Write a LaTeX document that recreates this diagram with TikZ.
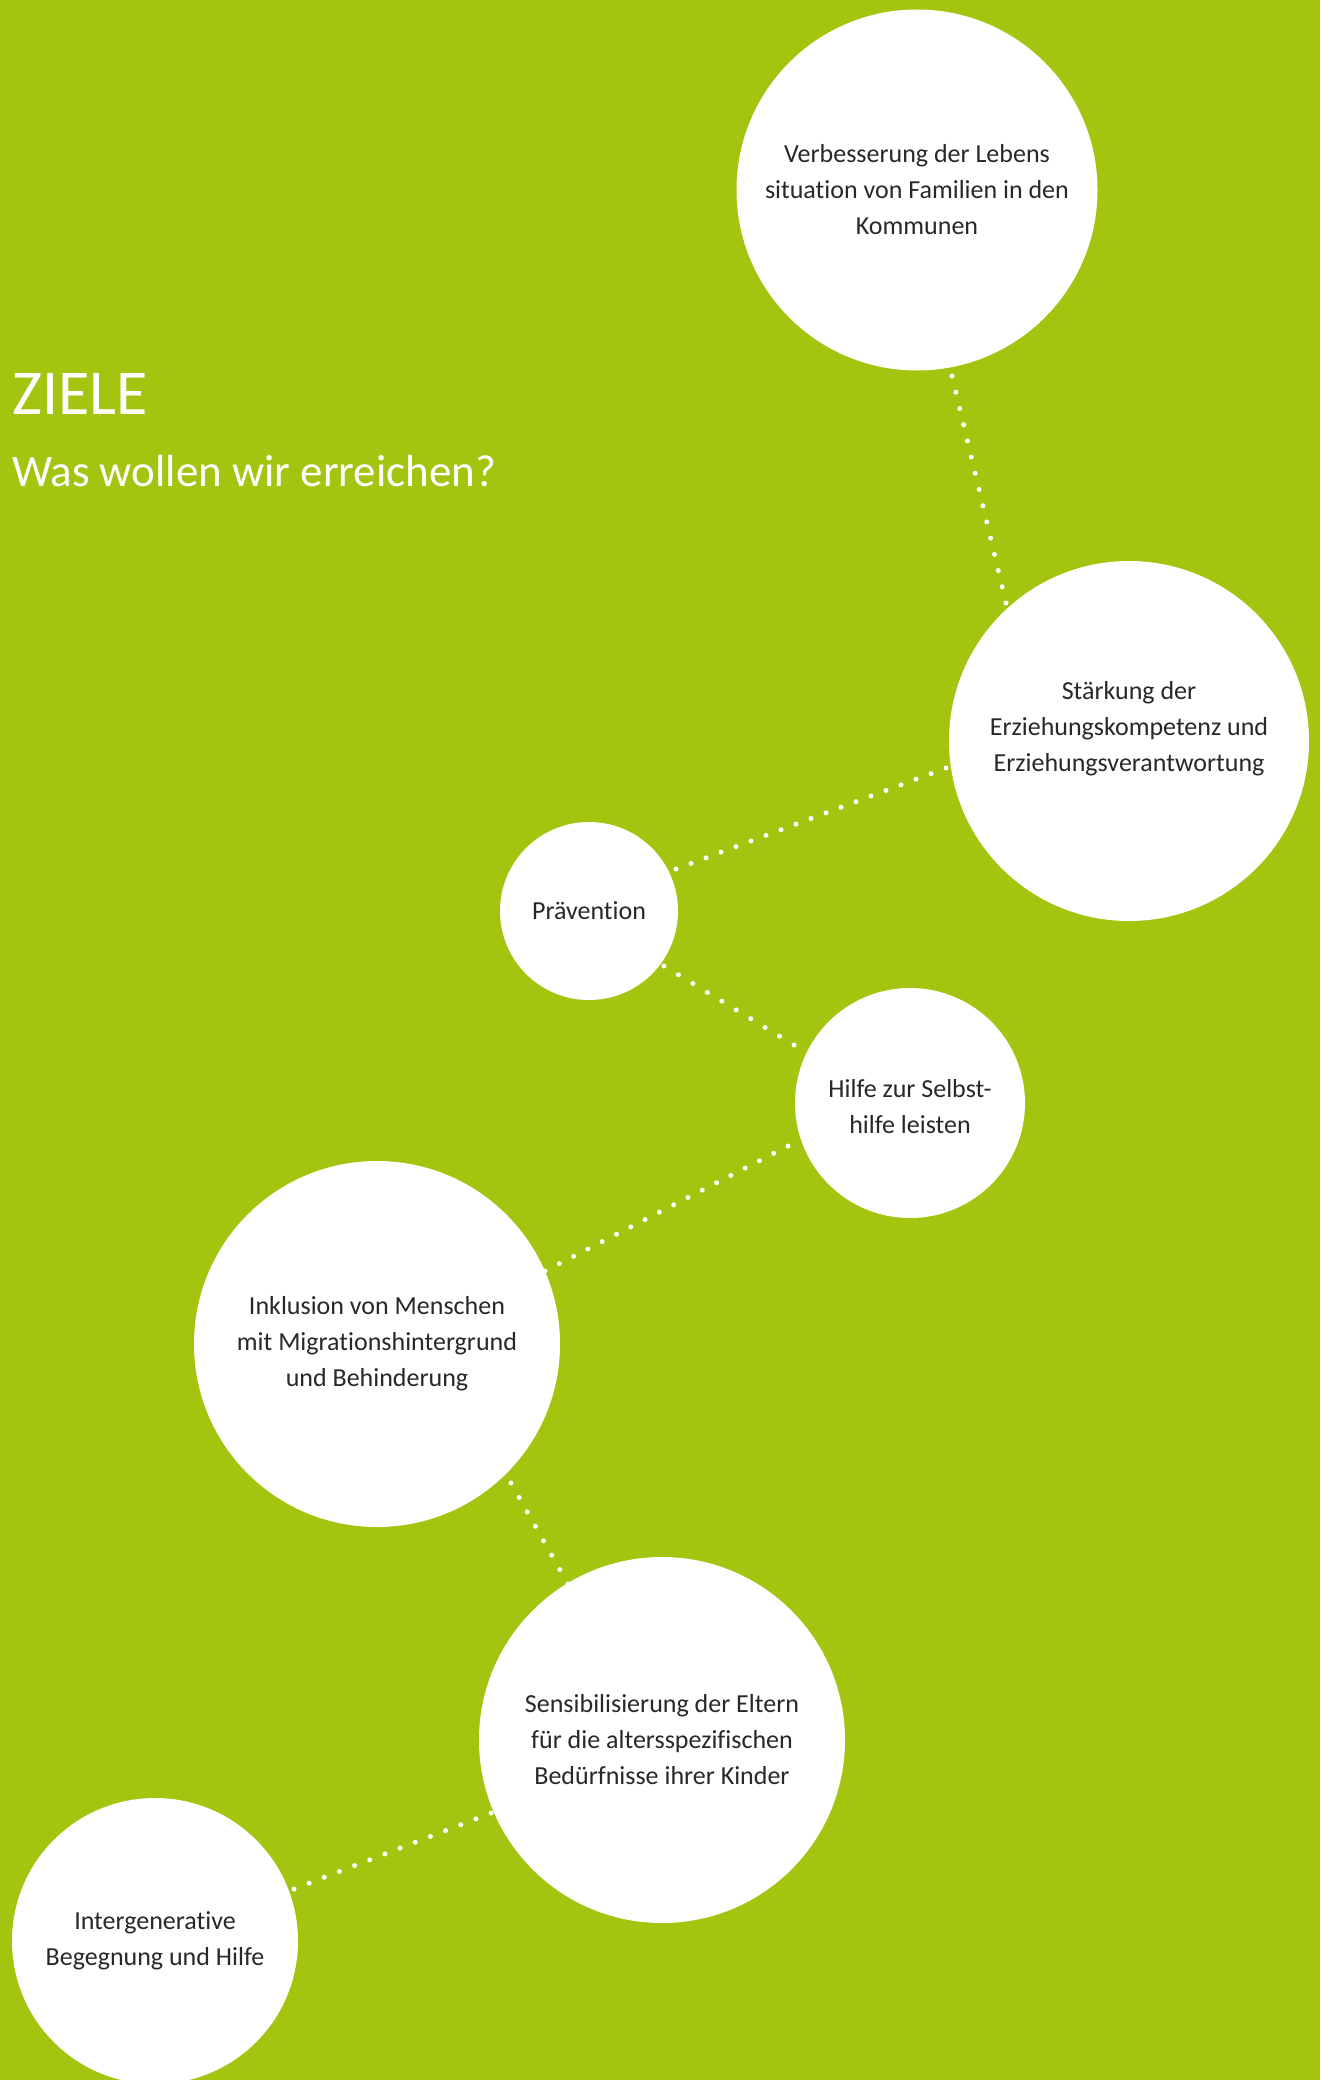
\documentclass[tikz,border=0pt]{standalone}
\usepackage{fontspec}
\setmainfont{Carlito}[Ligatures={NoCommon}]
\usetikzlibrary{calc}
\definecolor{bg}{RGB}{164,197,16}
\definecolor{txt}{RGB}{40,40,40}
\begin{document}
\begin{tikzpicture}[x=1pt,y=-1pt,
  goal/.style={circle, fill=white, draw=none, inner sep=0pt, minimum size=#1,
    text=txt, align=center, font=\fontsize{26}{36}\selectfont},
  goaltext/.style={inner sep=0pt, text=txt, align=center, font=\fontsize{26}{36}\selectfont},
  dotfill/.style={fill=white},
  titletext/.style={anchor=base west, text=white, inner sep=0pt}]
\useasboundingbox (0,0) rectangle (1320,2080);
\fill[bg] (0,0) rectangle (1320,2080);

\node[titletext, font=\fontsize{64}{64}\selectfont] (title) at (12,414) {ZIELE};
\node[titletext, font=\fontsize{45}{45}\selectfont] (sub) at (12,486) {Was wollen wir erreichen?};

\node[goal=361pt] (c1) at (917,190) {Verbesserung der Lebens\\situation von Familien in den\\Kommunen};
\node[goal=360pt] (c2) at (1129,741) {};
\node[goaltext] (t2) at ($(c2.center)+(0,-12)$) {Stärkung der\\Erziehungskompetenz und\\Erziehungsverantwortung};
\node[goal=178pt] (c3) at (589,911) {Prävention};
\node[goal=230pt] (c4) at (910,1103) {};
\node[goaltext] (t4) at ($(c4.center)+(0,4)$) {Hilfe zur Selbst-\\hilfe leisten};
\node[goal=366pt] (c5) at (377,1344) {Inklusion von Menschen\\mit Migrationshintergrund\\und Behinderung};
\node[goal=366pt] (c6) at (662,1740) {Sensibilisierung der Eltern\\für die altersspezifischen\\Bedürfnisse ihrer Kinder};
\node[goal=286pt] (c7) at (155,1941) {Intergenerative\\Begegnung und Hilfe};

\coordinate (a1) at ($(c1.center)+(35,186)$);
\coordinate (b1) at ($(c2.center)+(-123,-138)$);
\coordinate (a2) at ($(c2.center)+(-183,27)$);
\coordinate (b2) at ($(c3.center)+(87,-42)$);
\coordinate (a3) at ($(c3.center)+(75,55)$);
\coordinate (b3) at ($(c4.center)+(-116,-58)$);
\coordinate (a4) at ($(c4.center)+(-122,43)$);
\coordinate (b4) at ($(c5.center)+(168,-73)$);
\coordinate (a5) at ($(c5.center)+(134,139)$);
\coordinate (b5) at ($(c6.center)+(-94,-156)$);
\coordinate (a6) at ($(c6.center)+(-171,73)$);
\coordinate (b6) at ($(c7.center)+(139,-52)$);

\foreach \n/\a/\b in {14/a1/b1, 18/a2/b2, 9/a3/b3, 17/a4/b4, 7/a5/b5, 13/a6/b6}{
  \foreach \i in {0,...,\n}{
    \fill[dotfill] ($(\a)!\i/\n!(\b)$) circle (2.5pt);
  }
}
\end{tikzpicture}
\end{document}
